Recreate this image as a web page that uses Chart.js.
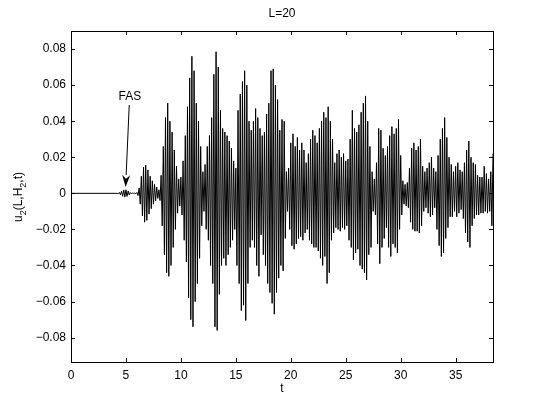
<!DOCTYPE html>
<html>
<head>
<meta charset="utf-8">
<script src="https://cdn.jsdelivr.net/npm/chart.js@4.4.1/dist/chart.umd.min.js"></script>
<style>
  body { margin: 0; background: #fff; }
  canvas { display: block; }
</style>
</head>
<body>
<canvas id="myChart" width="545" height="410"></canvas>
<script>
// values, one sample every dt starting at t0
var t0 = 4.2;
var dt = 0.1;

var uFAS = [0, -0.0002, 0.0005, -0.0008, 0.0012, -0.0016, 0.0019, -0.0021, 0.0020, -0.0017, 0.0013, -0.0009, 0.0005,
	-0.0002, 0.0001, 0, 0.0001, -0.0002, 0.0005, -0.0012, 0.0030, -0.0060, 0.0095, -0.0125, 0.0145, -0.0160,
	0.0156, -0.0150, 0.0130, -0.0115, 0.0095, -0.0085, 0.0070, -0.0060, 0.0050, -0.0042, 0.0035, -0.0028, 0.0020];
var uT8 = [-0.004, 0.010, -0.018, 0.026, -0.034, 0.042, -0.044, 0.050, -0.046, 0.040,
	-0.040, 0.034, -0.030, 0.024, -0.020, 0.015, -0.011, 0.008, -0.007, 0.009];
var uT10 = [-0.012, 0.018, -0.026, 0.032, -0.038, 0.048, -0.058, 0.064, -0.070, 0.076,
	-0.074, 0.068, -0.060, 0.050, -0.050, 0.040, -0.036, 0.026, -0.018, 0.012];
var uT12 = [-0.010, 0.016, -0.020, 0.026, -0.026, 0.032, -0.040, 0.042, -0.050, 0.066, -0.074, 0.0785, -0.076, 0.070, -0.056,
	0.046, -0.040, 0.036, -0.036, 0.034, -0.040, 0.032, -0.034, 0.029, -0.030, 0.025, -0.026, 0.018, -0.020];
var uT15 = [0.014, -0.040, 0.046, -0.050, 0.055, -0.065, 0.062, -0.062, 0.068, -0.0705, 0.060, -0.050, 0.040];
var uT16 = [-0.030, 0.035, -0.026, 0.040, -0.030, 0.047, -0.040, 0.042, -0.046, 0.036, -0.023, 0.032, -0.034, 0.034, -0.040, 0.044, -0.050];
var uT18 = [0.050, -0.055, 0.068, -0.061, 0.069, -0.067, 0.060, -0.055, 0.052, -0.047, 0.035, -0.040, 0.041, -0.043, 0.040];
var uT19 = [-0.025, 0.012, -0.010, 0.014, -0.020, 0.028, -0.029, 0.033, -0.031, 0.026,
	-0.028, 0.031, -0.025, 0.024, -0.024, 0.028, -0.026, 0.024, -0.022, 0.017];
var uT21 = [-0.020, 0.022, -0.026, 0.030, -0.028, 0.035, -0.030, 0.032, -0.030, 0.028, -0.032, 0.036, -0.036, 0.040, -0.040,
	0.045, -0.035, 0.042, -0.050, 0.048, -0.044, 0.040, -0.026, 0.030, -0.022, 0.017, -0.019, 0.022, -0.020];
var uT24 = [0.024, -0.021, 0.020, -0.019, 0.022, -0.020, 0.018, -0.018, 0.019, -0.026, 0.030, -0.030, 0.046, -0.037, 0.036, -0.033,
	0.034, -0.031, 0.038, -0.040, 0.045, -0.042, 0.050, -0.044, 0.054, -0.048, 0.040, -0.034, 0.026, -0.030, 0.012];
var uT27 = [-0.010, 0.008, -0.012, 0.017, -0.028, 0.036, -0.039, 0.035, -0.030, 0.025, -0.025, 0.021, -0.019, 0.026,
	-0.030, 0.032, -0.035, 0.037, -0.028, 0.033, -0.030, 0.036, -0.033, 0.041, -0.020, 0.021, -0.012];
var uT30 = [0.007, -0.006, 0.005, -0.007, 0.006, -0.008, 0.014, -0.016, 0.025, -0.020, 0.028, -0.021, 0.024, -0.021, 0.026,
	-0.022, 0.030, -0.018, 0.015, -0.010, 0.012, -0.008, 0.014, -0.011, 0.017, -0.013, 0.020, -0.012, 0.014, -0.008];
var uT33 = [0.012, -0.020, 0.021, -0.029, 0.030, -0.035, 0.036, -0.033, 0.042, -0.025, 0.031, -0.019, 0.020, -0.013, 0.016];
var uT35 = [-0.013, 0.012, -0.010, 0.015, -0.013, 0.017, -0.011, 0.013, -0.009, 0.012, -0.014, 0.017, -0.022, 0.024, -0.027, 0.029,
	-0.030, 0.020, -0.018, 0.017, -0.014, 0.016, -0.012, 0.010, -0.012, 0.009, -0.011, 0.009, -0.011, 0.015, -0.010, 0.011,
	-0.011, 0.008, -0.010, 0.012, -0.018, 0.022];

var xTicks = [0, 5, 10, 15, 20, 25, 30, 35];
var yTicks = [-0.08, -0.06, -0.04, -0.02, 0, 0.02, 0.04, 0.06, 0.08];

// arrow annotation: tip and tail in data units
var fasTip = { x: 4.97, y: 0.0035 };
var fasTail = { x: 5.3, y: 0.049 };
var fasText = { x: 5.36, y: 0.0535 };

var u = [].concat(uFAS, uT8, uT10, uT12, uT15, uT16, uT18, uT19, uT21, uT24, uT27, uT30, uT33, uT35);
var points = [{ x: 0, y: 0 }];
u.forEach(function (v, i) {
	points.push({ x: t0 + i * dt, y: v });
});

var FONT = '"Liberation Sans", Arial, sans-serif';

function fmt(v) {
	if (Math.abs(v) < 1e-9) return '0';
	var s = Math.abs(v).toFixed(2);
	return v < 0 ? '\u2212' + s : s;
}

var matlabAxes = {
	id: 'matlabAxes',
	afterDraw: function (chart) {
		var c = chart.ctx, a = chart.chartArea;
		var xs = chart.scales.x, ys = chart.scales.y;
		c.save();
		c.strokeStyle = '#000';
		c.lineWidth = 1;
		c.beginPath();
		xTicks.forEach(function (v) {
			var px = Math.round(xs.getPixelForValue(v)) + 0.5;
			c.moveTo(px, a.bottom); c.lineTo(px, a.bottom - 4);
			c.moveTo(px, a.top); c.lineTo(px, a.top + 4);
		});
		yTicks.forEach(function (v) {
			var py = Math.round(ys.getPixelForValue(v)) + 0.5;
			c.moveTo(a.left, py); c.lineTo(a.left + 4, py);
			c.moveTo(a.right, py); c.lineTo(a.right - 4, py);
		});
		c.stroke();
		c.strokeRect(Math.round(a.left) + 0.5, Math.round(a.top) + 0.5, Math.round(a.right - a.left), Math.round(a.bottom - a.top));

		// arrow
		var tx = xs.getPixelForValue(fasTip.x), ty = ys.getPixelForValue(fasTip.y);
		var sx = xs.getPixelForValue(fasTail.x), sy = ys.getPixelForValue(fasTail.y);
		var ang = Math.atan2(ty - sy, tx - sx);
		var hl = 12, hw = 4;
		c.beginPath();
		c.moveTo(sx, sy);
		c.lineTo(tx - hl * Math.cos(ang), ty - hl * Math.sin(ang));
		c.stroke();
		c.fillStyle = '#000';
		c.beginPath();
		c.moveTo(tx, ty);
		c.lineTo(tx - hl * Math.cos(ang) + hw * Math.sin(ang), ty - hl * Math.sin(ang) - hw * Math.cos(ang));
		c.lineTo(tx - hl * 0.7 * Math.cos(ang), ty - hl * 0.7 * Math.sin(ang));
		c.lineTo(tx - hl * Math.cos(ang) - hw * Math.sin(ang), ty - hl * Math.sin(ang) + hw * Math.cos(ang));
		c.closePath();
		c.fill();

		// texts
		c.font = '12px ' + FONT;
		c.textAlign = 'center';
		c.textBaseline = 'middle';
		c.fillText('FAS', xs.getPixelForValue(fasText.x), ys.getPixelForValue(fasText.y));
		c.fillText('L=20', (a.left + a.right) / 2, 14);
		c.fillText('t', (a.left + a.right) / 2, 389);

		// y label with subscripts
		var parts = [['u', 0], ['2', 1], ['(L,H', 0], ['2', 1], [',t)', 0]];
		var total = 0;
		parts.forEach(function (p) {
			c.font = (p[1] ? '9px ' : '12px ') + FONT;
			total += c.measureText(p[0]).width;
		});
		c.translate(19, 197);
		c.rotate(-Math.PI / 2);
		c.textAlign = 'left';
		c.textBaseline = 'alphabetic';
		var x = -total / 2;
		parts.forEach(function (p) {
			c.font = (p[1] ? '9px ' : '12px ') + FONT;
			c.fillText(p[0], x, p[1] ? 7 : 3);
			x += c.measureText(p[0]).width;
		});
		c.restore();
	}
};

var ctx = document.getElementById('myChart').getContext('2d');
var chart = new Chart(ctx, {
	type: 'line',
	data: {
		datasets: [{
			data: points,
			borderColor: '#000',
			borderWidth: 1,
			pointRadius: 0,
			tension: 0,
			fill: false
		}]
	},
	options: {
		responsive: false,
		animation: false,
		events: [],
		layout: { padding: { top: 31, right: 52, left: 0, bottom: 0 } },
		plugins: { legend: { display: false }, title: { display: false }, tooltip: { enabled: false } },
		scales: {
			x: {
				type: 'linear',
				min: 0,
				max: 38.4,
				grid: { display: false, drawTicks: false },
				border: { display: false },
				afterBuildTicks: function (s) { s.ticks = xTicks.map(function (v) { return { value: v }; }); },
				afterFit: function (s) { s.height = 48; },
				ticks: {
					color: '#000',
					padding: 6,
					maxRotation: 0,
					font: { family: FONT, size: 12 },
					callback: function (v) { return String(v); }
				}
			},
			y: {
				type: 'linear',
				min: -0.0935,
				max: 0.09,
				grid: { display: false, drawTicks: false },
				border: { display: false },
				afterBuildTicks: function (s) { s.ticks = yTicks.map(function (v) { return { value: v }; }); },
				afterFit: function (s) { s.width = 71; },
				ticks: {
					color: '#000',
					padding: 5,
					font: { family: FONT, size: 12 },
					callback: function (v) { return fmt(v); }
				}
			}
		}
	},
	plugins: [matlabAxes]
});
</script>
</body>
</html>
